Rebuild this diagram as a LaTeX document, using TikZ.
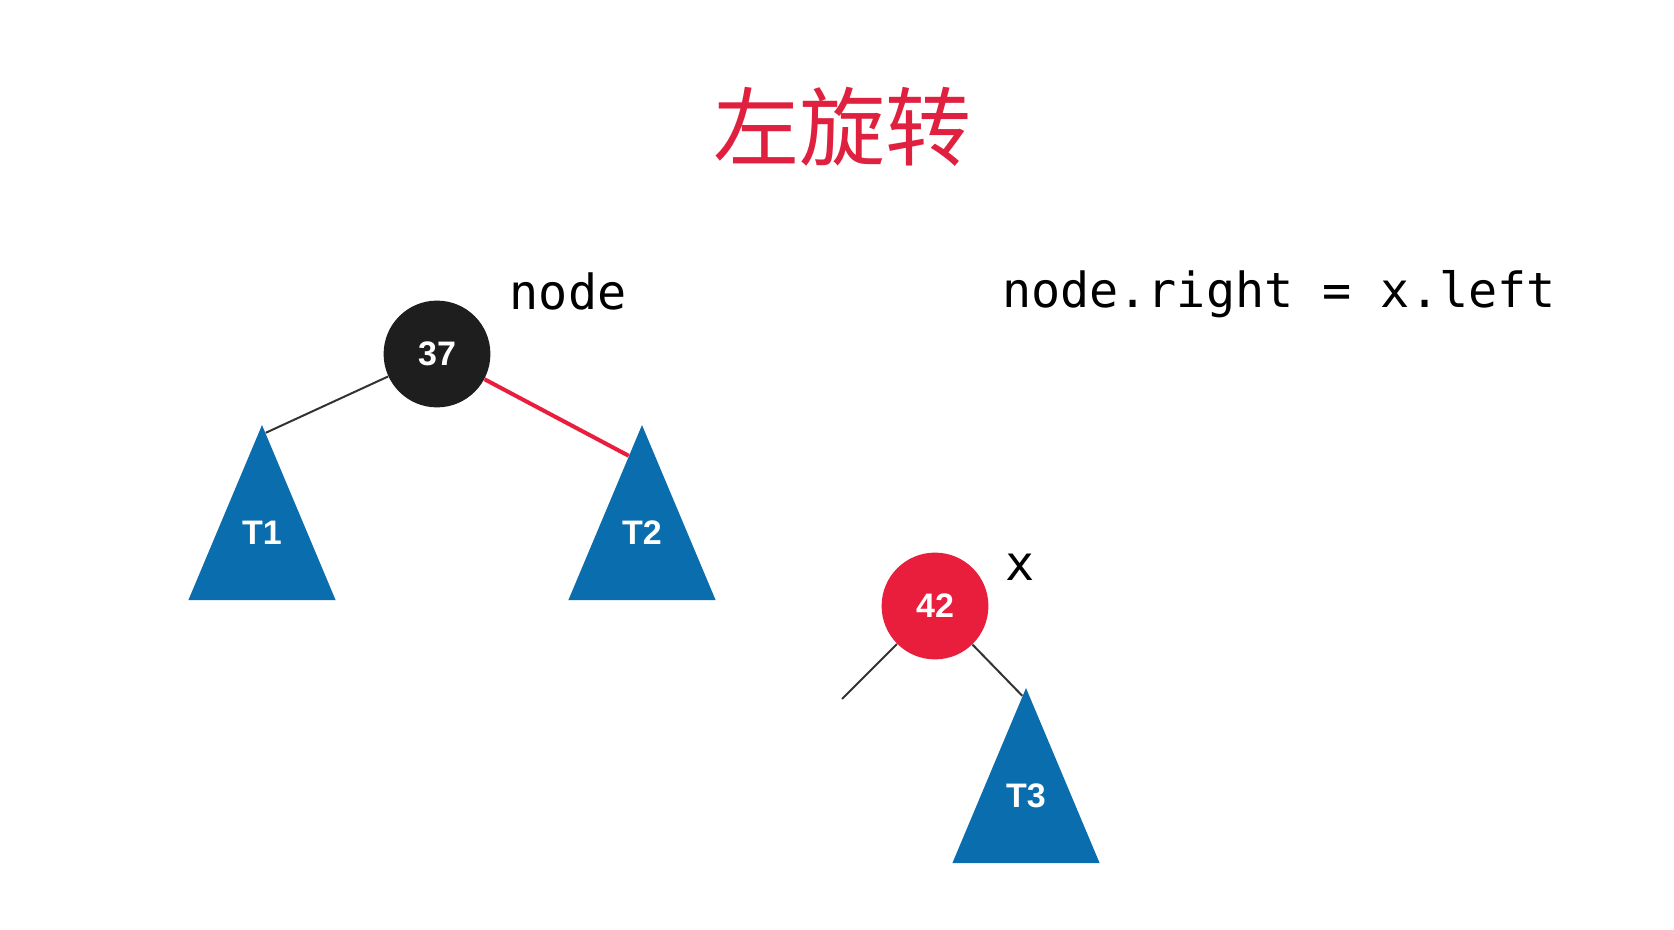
\documentclass[tikz,border=0pt]{standalone}
\usepackage{fontspec}
\usetikzlibrary{shapes.geometric, positioning, calc}
\newfontfamily\cjk{Noto Sans CJK SC}
\newfontfamily\codefont{DejaVu Sans Mono}
\newfontfamily\keyfont{Liberation Sans}
\definecolor{titlered}{HTML}{E0203F}
\definecolor{nodered}{HTML}{E81E3C}
\definecolor{nodeblack}{HTML}{1E1E1E}
\definecolor{treeblue}{HTML}{0A6DAE}
\definecolor{linegray}{HTML}{333333}
% subtree names sit a little above the triangle's centre
\newcommand\subtreename[1]{\raisebox{9.7pt}[0pt][0pt]{#1}}

\begin{document}
\begin{tikzpicture}[
  x=0.5pt, y=-0.5pt,
  keynode/.style={circle, minimum size=53.4pt, inner sep=0pt, text=white, font=\keyfont\bfseries\fontsize{17}{20}\selectfont},
  blacknode/.style={keynode, fill=nodeblack},
  rednode/.style={keynode, fill=nodered},
  subtree/.style={isosceles triangle, isosceles triangle stretches, shape border rotate=90, minimum width=73.6pt, minimum height=87.5pt, inner sep=0pt, fill=treeblue, text=white, font=\keyfont\bfseries\fontsize{17}{20}\selectfont},
  codetext/.style={font=\codefont\fontsize{24.2}{28}\selectfont},
  edge/.style={draw=linegray, line width=1pt},
  redge/.style={draw=nodered, line width=2pt}
]
\useasboundingbox[fill=white] (0,0) rectangle (1674,930);

\node[text=titlered, font=\cjk\fontsize{43}{50}\selectfont] (title) at (842,127) {左旋转};

\node[blacknode] (n37) at (437,354) {37};
\node[codetext] (lblnode) at (568,291) {node};
\node[subtree, anchor=apex] (t1) at (262,424) {\subtreename{T1}};
\node[subtree, anchor=apex] (t2) at (642,424) {\subtreename{T2}};

\node[codetext, anchor=west] (rule) at (995,294) {node.right = x.left};

\node[rednode] (n42) at (935,606) {42};
\node[codetext] (lblx) at (1020,567) {x};
\node[subtree, anchor=apex] (t3) at (1026,687) {\subtreename{T3}};
\coordinate (stub) at (842,699);

\draw[edge] (n37) -- ($(t1.apex)!0.05!(t1.right corner)$);
\draw[redge] (n37) -- ($(t2.apex)!0.18!(t2.left corner)$);
\draw[edge] (n42) -- (stub);
\draw[edge] (n42) -- ($(t3.apex)!0.05!(t3.left corner)$);
\end{tikzpicture}
\end{document}
